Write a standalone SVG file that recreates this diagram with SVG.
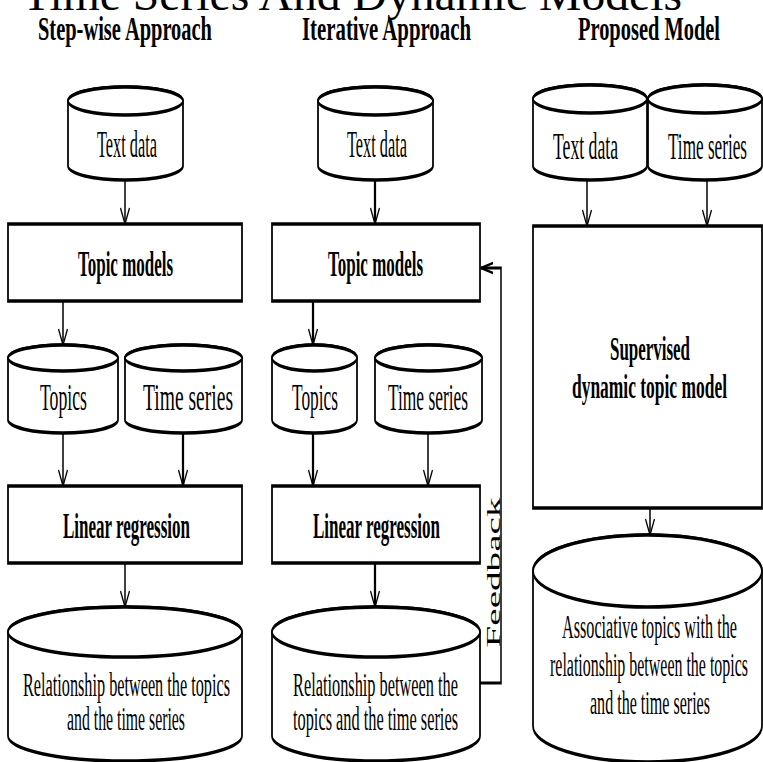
<svg xmlns="http://www.w3.org/2000/svg" width="763" height="762" viewBox="0 0 763 762">
<style>
.sh{fill:#fff;stroke:#000;stroke-width:3.5}
.ln{fill:none;stroke:#000;stroke-width:3}
.thk{stroke-width:4.5}
.t{font-family:"Liberation Serif","Times New Roman",serif;fill:#000;text-anchor:middle}
.b{font-weight:bold}
</style>
<defs>
<marker id="ah" markerUnits="userSpaceOnUse" markerWidth="40" markerHeight="40" viewBox="-20 -20 40 40" refX="0" refY="0" orient="auto" overflow="visible">
<path d="M-16,-9 L0,0 L-16,9" fill="none" stroke="#000" stroke-width="2.5"/>
</marker>
<marker id="ahl" markerUnits="userSpaceOnUse" markerWidth="40" markerHeight="40" viewBox="-30 -20 40 40" refX="0" refY="0" orient="auto" overflow="visible">
<path d="M-24,-5 L0,0 L-24,5" fill="none" stroke="#000" stroke-width="2.5"/>
</marker>
</defs>
<rect width="763" height="762" fill="#fff"/>
<text class="t" x="22" y="10" font-size="46" style="text-anchor:start" textLength="660" lengthAdjust="spacingAndGlyphs">Time Series And Dynamic Models</text>
<g transform="scale(0.5 1)">
<g id="headings">
<text class="t b" x="250" y="40" font-size="34" textLength="348" lengthAdjust="spacingAndGlyphs">Step-wise Approach</text>
<text class="t b" x="773" y="40" font-size="34" textLength="338" lengthAdjust="spacingAndGlyphs">Iterative Approach</text>
<text class="t b" x="1298" y="40" font-size="34" textLength="284" lengthAdjust="spacingAndGlyphs">Proposed Model</text>
</g>
<g id="connectors">
<line class="ln" x1="250" y1="180" x2="250" y2="224" marker-end="url(#ah)"/>
<line class="ln" x1="126" y1="301" x2="126" y2="345" marker-end="url(#ah)"/>
<line class="ln" x1="126" y1="433" x2="126" y2="486" marker-end="url(#ah)"/>
<line class="ln thk" x1="366" y1="433" x2="366" y2="486" marker-end="url(#ah)"/>
<line class="ln" x1="250" y1="563" x2="250" y2="607" marker-end="url(#ah)"/>
<line class="ln thk" x1="750" y1="180" x2="750" y2="224" marker-end="url(#ah)"/>
<line class="ln thk" x1="626" y1="301" x2="626" y2="345" marker-end="url(#ah)"/>
<line class="ln thk" x1="626" y1="433" x2="626" y2="486" marker-end="url(#ah)"/>
<line class="ln" x1="856" y1="433" x2="856" y2="486" marker-end="url(#ah)"/>
<line class="ln thk" x1="750" y1="563" x2="750" y2="607" marker-end="url(#ah)"/>
<line class="ln" x1="1174" y1="180" x2="1174" y2="226" marker-end="url(#ah)"/>
<line class="ln" x1="1414" y1="180" x2="1414" y2="226" marker-end="url(#ah)"/>
<line class="ln" x1="1300" y1="508" x2="1300" y2="535" marker-end="url(#ah)"/>
<path class="ln" d="M960,683 L1002,683 L1002,268 L962,268" marker-end="url(#ahl)"/>
</g>
<g id="text-data-1">
<path class="sh" d="M136,101 L136,166 A115,14 0 0 0 366,166 L366,101 A115,14 0 0 0 136,101 Z"/>
<ellipse class="sh" cx="251" cy="101" rx="115" ry="14"/>
<text class="t" x="254" y="157" font-size="38" textLength="120" lengthAdjust="spacingAndGlyphs">Text data</text>
</g>
<g id="topic-models-1">
<rect class="sh" x="16" y="224" width="468" height="77"/>
<text class="t b" x="251" y="276" font-size="36" textLength="190" lengthAdjust="spacingAndGlyphs">Topic models</text>
</g>
<g id="topics-1">
<path class="sh" d="M16,358 L16,420 A110,13 0 0 0 236,420 L236,358 A110,13 0 0 0 16,358 Z"/>
<ellipse class="sh" cx="126" cy="358" rx="110" ry="13"/>
<text class="t" x="127" y="410" font-size="38" textLength="94" lengthAdjust="spacingAndGlyphs">Topics</text>
</g>
<g id="time-series-1">
<path class="sh" d="M250,358 L250,420 A117,13 0 0 0 484,420 L484,358 A117,13 0 0 0 250,358 Z"/>
<ellipse class="sh" cx="367" cy="358" rx="117" ry="13"/>
<text class="t" x="376" y="410" font-size="38" textLength="180" lengthAdjust="spacingAndGlyphs">Time series</text>
</g>
<g id="linear-regression-1">
<rect class="sh" x="16" y="486" width="468" height="77"/>
<text class="t b" x="253" y="538" font-size="36" textLength="254" lengthAdjust="spacingAndGlyphs">Linear regression</text>
</g>
<g id="relationship-1">
<path class="sh" d="M16,632 L16,736 A234,25 0 0 0 484,736 L484,632 A234,25 0 0 0 16,632 Z"/>
<ellipse class="sh" cx="250" cy="632" rx="234" ry="25"/>
<text class="t" x="253" y="696" font-size="34" textLength="414" lengthAdjust="spacingAndGlyphs">Relationship between the topics</text>
<text class="t" x="252" y="730" font-size="34" textLength="236" lengthAdjust="spacingAndGlyphs">and the time series</text>
</g>
<g id="text-data-2">
<path class="sh" d="M636,101 L636,166 A115,14 0 0 0 866,166 L866,101 A115,14 0 0 0 636,101 Z"/>
<ellipse class="sh" cx="751" cy="101" rx="115" ry="14"/>
<text class="t" x="754" y="157" font-size="38" textLength="120" lengthAdjust="spacingAndGlyphs">Text data</text>
</g>
<g id="topic-models-2">
<rect class="sh" x="544" y="224" width="416" height="77"/>
<text class="t b" x="751" y="276" font-size="36" textLength="190" lengthAdjust="spacingAndGlyphs">Topic models</text>
</g>
<g id="topics-2">
<path class="sh" d="M544,358 L544,420 A85,13 0 0 0 714,420 L714,358 A85,13 0 0 0 544,358 Z"/>
<ellipse class="sh" cx="629" cy="358" rx="85" ry="13"/>
<text class="t" x="630" y="410" font-size="38" textLength="92" lengthAdjust="spacingAndGlyphs">Topics</text>
</g>
<g id="time-series-2">
<path class="sh" d="M750,358 L750,420 A107,13 0 0 0 964,420 L964,358 A107,13 0 0 0 750,358 Z"/>
<ellipse class="sh" cx="857" cy="358" rx="107" ry="13"/>
<text class="t" x="856" y="410" font-size="38" textLength="160" lengthAdjust="spacingAndGlyphs">Time series</text>
</g>
<g id="linear-regression-2">
<rect class="sh" x="544" y="486" width="416" height="77"/>
<text class="t b" x="753" y="538" font-size="36" textLength="254" lengthAdjust="spacingAndGlyphs">Linear regression</text>
</g>
<g id="relationship-2">
<path class="sh" d="M544,632 L544,736 A208,25 0 0 0 960,736 L960,632 A208,25 0 0 0 544,632 Z"/>
<ellipse class="sh" cx="752" cy="632" rx="208" ry="25"/>
<text class="t" x="751" y="696" font-size="34" textLength="330" lengthAdjust="spacingAndGlyphs">Relationship between the</text>
<text class="t" x="751" y="730" font-size="34" textLength="330" lengthAdjust="spacingAndGlyphs">topics and the time series</text>
</g>
<g id="text-data-3">
<path class="sh" d="M1066,99 L1066,166 A114,14 0 0 0 1294,166 L1294,99 A114,14 0 0 0 1066,99 Z"/>
<ellipse class="sh" cx="1180" cy="99" rx="114" ry="14"/>
<text class="t" x="1171" y="159" font-size="38" textLength="130" lengthAdjust="spacingAndGlyphs">Text data</text>
</g>
<g id="time-series-3">
<path class="sh" d="M1296,99 L1296,166 A114,14 0 0 0 1524,166 L1524,99 A114,14 0 0 0 1296,99 Z"/>
<ellipse class="sh" cx="1410" cy="99" rx="114" ry="14"/>
<text class="t" x="1415" y="159" font-size="38" textLength="158" lengthAdjust="spacingAndGlyphs">Time series</text>
</g>
<g id="supervised-dtm">
<rect class="sh" x="1066" y="226" width="458" height="282"/>
<text class="t b" x="1300" y="360" font-size="34" textLength="160" lengthAdjust="spacingAndGlyphs">Supervised</text>
<text class="t b" x="1299" y="398" font-size="34" textLength="310" lengthAdjust="spacingAndGlyphs">dynamic topic model</text>
</g>
<g id="associative-topics">
<path class="sh" d="M1066,571 L1066,726 A229,36 0 0 0 1524,726 L1524,571 A229,36 0 0 0 1066,571 Z"/>
<ellipse class="sh" cx="1295" cy="571" rx="229" ry="36"/>
<text class="t" x="1299" y="638" font-size="33" textLength="350" lengthAdjust="spacingAndGlyphs">Associative topics with the</text>
<text class="t" x="1298" y="676" font-size="33" textLength="396" lengthAdjust="spacingAndGlyphs">relationship between the topics</text>
<text class="t" x="1300" y="714" font-size="33" textLength="240" lengthAdjust="spacingAndGlyphs">and the time series</text>
</g>
</g>
<text class="t" transform="translate(500 572.5) rotate(-90)" x="0" y="0" font-size="18" textLength="150" lengthAdjust="spacingAndGlyphs">Feedback</text>
</svg>
